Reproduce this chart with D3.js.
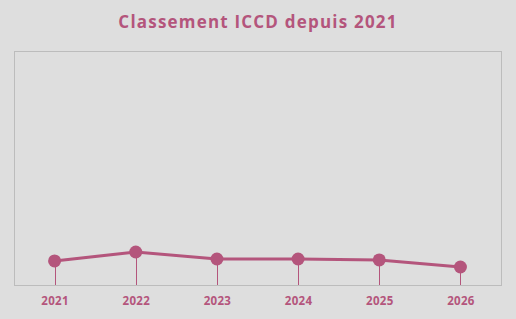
<!DOCTYPE html>
<html>
<head>
<meta charset="utf-8">
<script src="https://cdn.jsdelivr.net/npm/d3@7"></script>
<style>
  body { margin: 0; background: #dedede; }
  svg { display: block; }
</style>
</head>
<body>
<script>
// chart values
var years = ['2021', '2022', '2023', '2024', '2025', '2026'];
var scores = [10.3, 14.1, 11.1, 11.1, 10.7, 7.7];
var chartTitle = 'Classement ICCD depuis 2021';

var width = 516, height = 319;
var margin = {left: 14, right: 15, top: 51, bottom: 34};
var color = '#b4557c';

var svg = d3.select('body')
  .append('svg')
  .attr('width', width)
  .attr('height', height);

svg.append('rect')
  .attr('width', width)
  .attr('height', height)
  .attr('fill', '#dedede');

// title
svg.append('text')
  .attr('x', 258)
  .attr('y', 28)
  .attr('text-anchor', 'middle')
  .style('font-family', 'Open Sans, sans-serif')
  .style('font-weight', 'bold')
  .style('font-size', '17px')
  .style('letter-spacing', '1.2px')
  .style('fill', color)
  .text(chartTitle);

var x = d3.scalePoint()
  .domain(years)
  .range([margin.left, width - margin.right])
  .padding(0.5);

var y = d3.scaleLinear()
  .domain([0, 100])
  .range([height - margin.bottom, margin.top]);

// plot frame
svg.append('rect')
  .attr('x', margin.left + 0.5)
  .attr('y', margin.top + 0.5)
  .attr('width', width - margin.left - margin.right)
  .attr('height', height - margin.top - margin.bottom)
  .attr('fill', 'none')
  .attr('stroke', '#bcbcbc')
  .attr('stroke-width', 1);

// x axis labels
var xAxis = d3.axisBottom(x).tickSize(0).tickPadding(12);
var gx = svg.append('g')
  .attr('transform', 'translate(0,' + (height - margin.bottom) + ')')
  .call(xAxis);
gx.select('.domain').remove();
gx.selectAll('text')
  .style('font-family', 'Open Sans, sans-serif')
  .style('font-weight', 'bold')
  .style('font-size', '11.5px')
  .style('letter-spacing', '0.3px')
  .style('fill', color);

var data = years.map(function(d, i) {
  return {year: d, value: scores[i]};
});

// drop lines
svg.append('g')
  .selectAll('line')
  .data(data)
  .enter()
  .append('line')
  .attr('x1', function(d) { return Math.round(x(d.year)) + 0.5; })
  .attr('x2', function(d) { return Math.round(x(d.year)) + 0.5; })
  .attr('y1', function(d) { return y(d.value); })
  .attr('y2', y(0))
  .attr('stroke', color)
  .attr('stroke-width', 1);

// line
var line = d3.line()
  .x(function(d) { return x(d.year); })
  .y(function(d) { return y(d.value); });

svg.append('path')
  .datum(data)
  .attr('d', line)
  .attr('fill', 'none')
  .attr('stroke', color)
  .attr('stroke-width', 3);

// markers
svg.append('g')
  .selectAll('circle')
  .data(data)
  .enter()
  .append('circle')
  .attr('cx', function(d) { return x(d.year); })
  .attr('cy', function(d) { return y(d.value); })
  .attr('r', 6.5)
  .attr('fill', color);
</script>
</body>
</html>
